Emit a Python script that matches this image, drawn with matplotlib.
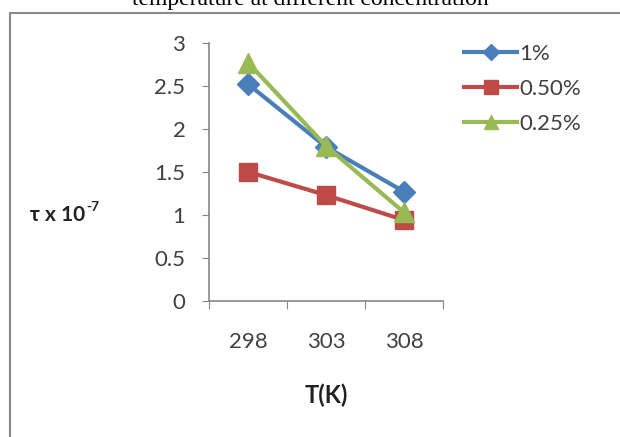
import matplotlib
matplotlib.use("Agg")
from matplotlib import pyplot as plt
from matplotlib.patches import Rectangle

# data
temperatures = ["298", "303", "308"]
tau_1 = [2.52, 1.79, 1.27]
tau_050 = [1.50, 1.23, 0.94]
tau_025 = [2.77, 1.80, 1.03]
series_labels = ["1%", "0.50%", "0.25%"]

plt.rcParams["font.family"] = ["Lato", "DejaVu Sans"]

fig = plt.figure(figsize=(6.2, 4.37), dpi=100)
fig.patch.set_facecolor("white")

# outer frame of the pasted chart
fig.patches.append(Rectangle((10 / 620, -0.1), 1.0, 1 - 13 / 437 + 0.1, transform=fig.transFigure,
                             fill=False, edgecolor="#8a8a8a", linewidth=1.5))

fig.text(0.5, 1.0, "temperature at different concentration", ha="center", va="center",
         family="Liberation Serif", fontsize=17, color="black")

ax = fig.add_axes([209 / 620, 1 - 301 / 437, (443 - 209) / 620, (301 - 42.7) / 437])
x = range(len(temperatures))

ax.plot(x, tau_1, color="#4a7ebb", linewidth=3, marker="D", markersize=11, label=series_labels[0])
ax.plot(x, tau_050, color="#be4b48", linewidth=3, marker="s", markersize=13, label=series_labels[1])
ax.plot(x, tau_025, color="#98b954", linewidth=3, marker="^", markersize=14, label=series_labels[2])

ax.set_xlim(-0.5, 2.5)
ax.set_ylim(0, 3)
ax.set_yticks([0, 0.5, 1, 1.5, 2, 2.5, 3])
ax.set_yticklabels(["0", "0.5", "1", "1.5", "2", "2.5", "3"])
ax.set_xticks([-0.5, 0.5, 1.5, 2.5])
ax.set_xticklabels([])
ax.set_xticks(list(x), minor=True)
ax.set_xticklabels(temperatures, minor=True)
ax.tick_params(axis="x", which="minor", length=0, pad=22, labelsize=16, labelcolor="#404040")
ax.tick_params(axis="x", which="major", length=6, color="#868686", direction="out")
ax.tick_params(axis="y", length=5, color="#868686", direction="out", pad=12, labelsize=16, labelcolor="#404040")

for side in ["top", "right"]:
    ax.spines[side].set_visible(False)
for side in ["left", "bottom"]:
    ax.spines[side].set_color("#868686")
    ax.spines[side].set_linewidth(1.2)

ylab = fig.text(30 / 620, 1 - 215 / 437, "τ x 10", ha="left", va="center",
                fontsize=15, fontweight="bold", color="#222222")
fig.text(0, 0, "").set_visible(False)
ax.annotate("-7", xy=(1.0, 1.0), xycoords=ylab, xytext=(1, 3), textcoords="offset points",
            ha="left", va="top", fontsize=10, fontweight="bold", color="#222222",
            annotation_clip=False)
fig.text(326 / 620, 1 - 395 / 437, "T(K)", ha="center", va="center",
         fontsize=17, fontweight="bold", color="#222222")

fig.legend(loc="upper left", bbox_to_anchor=(444 / 620, 1 - 24 / 437), frameon=False,
           fontsize=16, handlelength=2.4, labelspacing=0.68, handletextpad=0.1,
           markerscale=0.75, labelcolor="#404040")

fig.savefig("out.png", dpi=100)
